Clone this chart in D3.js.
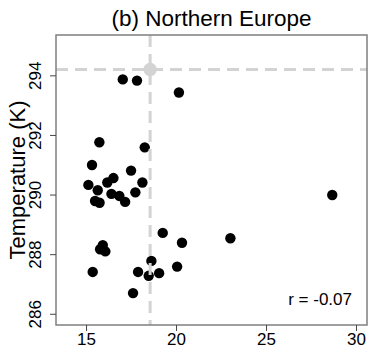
<!DOCTYPE html>
<html>
<head>
<meta charset="utf-8">
<script src="https://cdn.jsdelivr.net/npm/d3@7"></script>
<style>
  body { margin: 0; background: #fff; }
  text { font-family: "Liberation Sans", Arial, sans-serif; }
</style>
</head>
<body>
<div id="chart"></div>
<script>
// precipitation-like x values and temperature (K) for each point
const xValues = [17.04, 17.83, 20.16, 15.74, 18.26, 15.33, 17.50, 16.52, 16.18, 15.13,
                 18.13, 15.65, 16.41, 16.85, 17.74, 17.17, 15.50, 15.75, 19.26, 20.33,
                 15.93, 15.78, 16.07, 18.63, 15.37, 17.89, 18.48, 19.06, 20.06, 17.61,
                 28.68, 23.02];
const yValues = [293.88, 293.84, 293.44, 291.77, 291.60, 291.01, 290.82, 290.57, 290.42, 290.34,
                 290.42, 290.16, 290.04, 289.97, 290.09, 289.77, 289.80, 289.74, 288.73, 288.40,
                 288.32, 288.18, 288.11, 287.79, 287.42, 287.42, 287.29, 287.38, 287.60, 286.71,
                 290.00, 288.55];
const meanPoint = [18.56, 294.21];
const xTicks = [15, 20, 25, 30];
const yTicks = [286, 288, 290, 292, 294];
const title = "(b) Northern Europe";
const yLabel = "Temperature (K)";
const corrLabel = "r = -0.07";

const width = 369, height = 351;
const margin = {top: 35, right: 2, bottom: 26, left: 56};

const svg = d3.select("#chart").append("svg")
    .attr("width", width)
    .attr("height", height);

const x = d3.scaleLinear().domain([13.33, 30.61]).range([margin.left, width - margin.right]);
const y = d3.scaleLinear().domain([285.64, 295.37]).range([height - margin.bottom, margin.top]);

// points
svg.append("g")
    .selectAll("circle")
    .data(xValues.map((v, i) => [v, yValues[i]]))
    .enter().append("circle")
    .attr("cx", d => x(d[0]))
    .attr("cy", d => y(d[1]))
    .attr("r", 5.2)
    .attr("fill", "#000");

// dashed reference lines through the mean
svg.append("line")
    .attr("x1", x(meanPoint[0])).attr("x2", x(meanPoint[0]))
    .attr("y1", margin.top).attr("y2", height - margin.bottom)
    .attr("stroke", "#d3d3d3").attr("stroke-width", 3)
    .attr("stroke-dasharray", "12,7");
svg.append("line")
    .attr("x1", margin.left).attr("x2", width - margin.right)
    .attr("y1", y(meanPoint[1])).attr("y2", y(meanPoint[1]))
    .attr("stroke", "#d3d3d3").attr("stroke-width", 3)
    .attr("stroke-dasharray", "12,7");
svg.append("circle")
    .attr("cx", x(meanPoint[0]))
    .attr("cy", y(meanPoint[1]))
    .attr("r", 6.7)
    .attr("fill", "#d3d3d3");

// box
svg.append("rect")
    .attr("x", margin.left).attr("y", margin.top)
    .attr("width", width - margin.left - margin.right)
    .attr("height", height - margin.top - margin.bottom)
    .attr("fill", "none").attr("stroke", "#7f7f7f").attr("stroke-width", 1.5);

// axes
const xAxis = svg.append("g")
    .attr("transform", "translate(0," + (height - margin.bottom) + ")")
    .call(d3.axisBottom(x).tickValues(xTicks).tickSize(6).tickPadding(2));
const yAxis = svg.append("g")
    .attr("transform", "translate(" + margin.left + ",0)")
    .call(d3.axisLeft(y).tickValues(yTicks).tickSize(6).tickPadding(3));
xAxis.select(".domain").remove();
yAxis.select(".domain").remove();
xAxis.selectAll("text").attr("font-size", 17).attr("fill", "#000")
    .style("font-family", "Liberation Sans, Arial, sans-serif");
yAxis.selectAll("text")
    .attr("font-size", 17).attr("fill", "#000")
    .style("font-family", "Liberation Sans, Arial, sans-serif")
    .attr("text-anchor", "middle")
    .attr("dy", 0)
    .attr("transform", d => "translate(-15," + y(d) + ") rotate(-90)")
    .attr("x", 0).attr("y", 0);
yAxis.selectAll(".tick").attr("transform", null);
yAxis.selectAll(".tick line").attr("y1", d => y(d)).attr("y2", d => y(d));
xAxis.selectAll(".tick line").attr("stroke", "#444");
yAxis.selectAll(".tick line").attr("stroke", "#444");

// title and labels
svg.append("text")
    .attr("x", (margin.left + width - margin.right) / 2)
    .attr("y", 26)
    .attr("text-anchor", "middle")
    .attr("font-size", 22.5)
    .text(title);

svg.append("text")
    .attr("transform", "translate(25," + ((margin.top + height - margin.bottom) / 2) + ") rotate(-90)")
    .attr("text-anchor", "middle")
    .attr("font-size", 22)
    .text(yLabel);

svg.append("text")
    .attr("x", 352)
    .attr("y", 305)
    .attr("text-anchor", "end")
    .attr("font-size", 17)
    .text(corrLabel);
</script>
</body>
</html>
